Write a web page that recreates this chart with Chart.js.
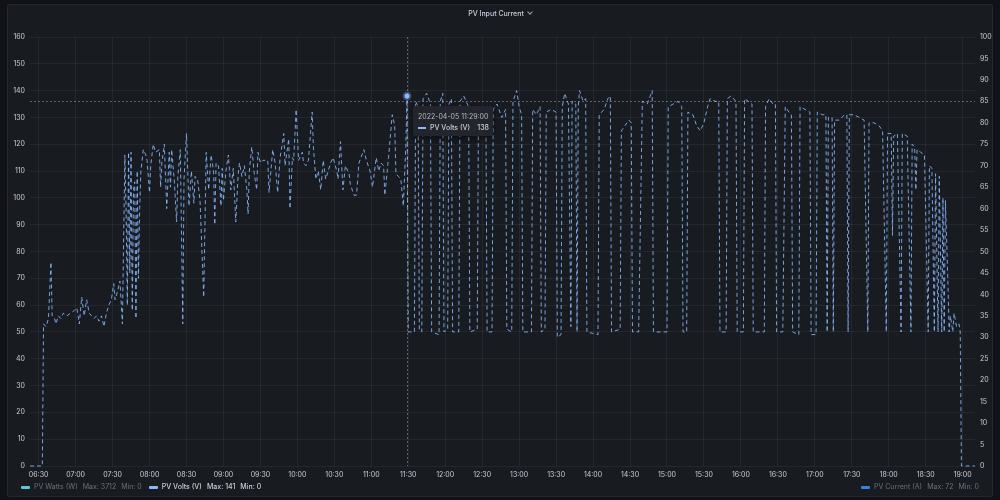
<!DOCTYPE html>
<html>
<head>
<meta charset="utf-8">
<title>PV Input Current</title>
<script src="https://cdn.jsdelivr.net/npm/chart.js@4.4.1/dist/chart.umd.min.js"></script>
<style>
  html, body { margin: 0; padding: 0; width: 1000px; height: 500px; overflow: hidden; background: #111217; font-family: Inter, Roboto, sans-serif; }
  #panel { position: absolute; left: 7px; top: 4px; width: 986px; height: 493px; box-sizing: border-box; background: #181b1f; border: 1px solid rgba(204,204,220,0.07); border-radius: 2px; }
  #wrap { position: absolute; left: 0; top: 0; width: 1000px; height: 500px; }
  #title { position: absolute; left: 0; top: 9px; width: 1000px; text-align: center; color: #ccccdc; font-size: 7px; font-weight: 500; line-height: 10px; }
  #title .chev { display: inline-block; width: 3px; height: 3px; margin-left: 4px; border-right: 1px solid #9fa1a8; border-bottom: 1px solid #9fa1a8; transform: translateY(-2px) rotate(45deg); }
  .legend { position: absolute; top: 482px; height: 10px; display: flex; align-items: center; font-size: 7px; line-height: 10px; white-space: nowrap; }
  .legend .item { display: flex; align-items: center; margin-right: 7px; }
  .legend .sw { width: 9px; height: 3px; border-radius: 1px; margin-right: 4px; }
  .legend .nm { margin-right: 5px; }
  .legend .st { margin-right: 5px; }
  .dim { color: #6e7079; }
  .on { color: #ccccdc; font-weight: 500; }
  #tip { position: absolute; width: 80px; height: 30px; box-sizing: border-box; background: #22252b; border-radius: 2px; box-shadow: 0 2px 6px rgba(0,0,0,0.5); padding: 5px 4px 0 5px; font-size: 7px; line-height: 11px; color: #ccccdc; }
  #tip .row { display: flex; align-items: center; }
  #tip .sw { width: 8px; height: 2px; background: #8AB8FF; margin-right: 4px; }
  #tip .val { margin-left: auto; font-weight: 500; }
</style>
</head>
<body>
<div id="panel"></div>
<div id="wrap"><canvas id="pvChart"></canvas></div>
<div id="title">PV Input Current<span class="chev"></span></div>
<div class="legend" id="legendLeft" style="left:21px"></div>
<div class="legend" id="legendRight" style="right:14px"></div>
<div id="tip"></div>
<script>
// Zeitachse (HH:MM) und PV-Spannung in Volt
const times = [
  '06:23','06:33','06:34','06:36','06:38','06:40','06:41','06:43','06:44','06:46','06:48','06:50','06:53','06:56','06:59',
  '07:01','07:03','07:05','07:07','07:09','07:11','07:13','07:15','07:17','07:19','07:21','07:23','07:25','07:27','07:29',
  '07:31','07:32','07:34','07:36','07:38','07:39','07:40','07:41','07:42','07:43','07:44','07:45','07:46','07:47','07:48',
  '07:49','07:50','07:51','07:52','07:53','07:55','07:57','07:58',
  '08:00','08:01','08:03','08:05','08:08','08:09','08:10','08:12','08:14','08:16','08:17','08:18','08:20','08:22','08:23',
  '08:25','08:27','08:28','08:30','08:32','08:34','08:36','08:37','08:39','08:41','08:44','08:46','08:48','08:50','08:52',
  '08:53','08:54','08:56','08:58','08:59',
  '09:00','09:02','09:04','09:06','09:08','09:10','09:12','09:13','09:15','09:17','09:19','09:20','09:21','09:23','09:25',
  '09:27','09:28','09:30','09:32','09:34','09:36','09:37','09:40','09:42','09:44','09:46','09:49','09:50','09:53','09:54',
  '09:56','09:57','09:59',
  '10:01','10:04','10:05','10:07','10:09','10:12','10:13','10:15','10:17','10:19','10:21','10:23','10:25','10:27','10:29',
  '10:32','10:33','10:35','10:37','10:39','10:42','10:43','10:46','10:48','10:50','10:54','10:56','10:59',
  '11:01','11:04','11:06','11:08','11:10','11:11','11:14','11:17','11:19','11:20','11:22','11:24','11:26','11:28','11:29',
  '11:30','11:35','11:36','11:38','11:39','11:41','11:42','11:45','11:48','11:49','11:55','11:56','11:58','11:59',
  '12:02','12:03','12:05','12:06','12:11','12:12','12:15','12:19','12:20','12:26','12:27','12:30','12:33','12:34','12:38',
  '12:39','12:42','12:46','12:49','12:50','12:54','12:55','12:58',
  '13:00','13:02','13:03','13:10','13:11','13:14','13:17','13:18','13:21','13:22','13:26','13:30','13:31','13:34','13:35',
  '13:37','13:40','13:42','13:43','13:46','13:47','13:48','13:49','13:52','13:54','13:55',
  '14:04','14:05','14:09','14:12','14:14','14:15','14:22','14:23','14:26','14:29','14:31','14:32','14:37','14:40','14:44',
  '14:48','14:49',
  '15:00','15:01','15:05','15:09','15:12','15:13','15:16','15:17','15:21','15:24','15:27','15:30','15:33','15:35','15:39',
  '15:42','15:43','15:48','15:49','15:52','15:56','15:57',
  '16:02','16:03','16:06','16:09','16:10','16:19','16:20','16:23','16:26','16:28','16:29','16:34','16:36','16:39','16:41',
  '16:42','16:47','16:48','16:52','16:56','16:57',
  '17:01','17:02','17:06','17:09','17:10','17:11','17:14','17:15','17:16','17:20','17:24','17:26','17:27','17:28','17:32',
  '17:36','17:40','17:43','17:44','17:48','17:52','17:55','17:58','17:59',
  '18:02','18:03','18:04','18:07','18:10','18:11','18:15','18:18','18:19','18:21','18:22','18:23','18:26','18:29','18:32',
  '18:33','18:35','18:37','18:38','18:40','18:41','18:43','18:44','18:45','18:46','18:48','18:49','18:50','18:52','18:53',
  '18:55','18:57','18:58','18:59','19:10'
];
const pvVolts = [
  0,0,53,52,55,76,56,55,53,56,55,57,56,57,58,
  59,53,63,56,62,57,56,55,56,54,56,52,57,60,62,
  68,62,65,69,53,85,116,95,60,117,72,117,58,103,106,
  55,110,70,96,110,118,116,114,
  102,112,120,117,118,104,113,120,96,117,104,118,107,91,108,
  118,53,107,124,97,110,98,108,107,99,63,117,103,116,110,
  90,113,112,97,111,
  99,110,116,103,111,91,109,113,108,112,103,94,110,119,109,
  103,117,113,114,114,114,102,118,113,102,115,124,112,122,96,
  115,114,133,
  114,117,113,112,114,132,119,107,110,103,114,107,110,113,115,
  110,107,121,103,112,109,105,101,101,113,118,114,110,
  104,115,110,113,112,101,115,131,127,109,108,107,97,119,138,
  50,50,136,134,51,50,137,139,135,50,49,136,139,50,
  51,135,137,50,50,136,138,134,50,51,133,131,134,50,50,
  133,135,130,133,51,50,136,140,
  134,131,50,50,133,131,134,50,51,132,133,132,48,49,134,
  139,135,52,136,135,50,134,140,136,137,50,
  49,131,133,137,138,50,51,125,127,129,128,50,50,136,135,
  140,50,
  50,134,135,136,134,50,50,132,131,127,125,128,134,137,136,
  136,50,50,137,138,136,50,
  50,137,136,135,50,50,134,137,135,135,50,50,134,132,131,
  50,49,134,133,132,49,
  49,132,131,131,50,130,130,50,129,129,131,131,50,131,131,
  130,129,50,128,128,127,125,50,124,
  124,86,123,124,50,124,123,50,120,119,103,118,117,116,50,
  112,111,50,109,50,108,50,100,50,99,69,50,56,50,57,
  52,53,50,0,0
];

// Achsen
const xTickLabels = ['06:30','07:00','07:30','08:00','08:30','09:00','09:30','10:00','10:30','11:00','11:30','12:00','12:30',
  '13:00','13:30','14:00','14:30','15:00','15:30','16:00','16:30','17:00','17:30','18:00','18:30','19:00'];
const xRange = ['06:23', '19:10'];
const leftRange = [0, 160];
const rightRange = [0, 100];

// Legende und Tooltip
const seriesNames = ['PV Watts (W)', 'PV Volts (V)', 'PV Current (A)'];
const seriesMax = [3712, 141, 72];
const seriesMin = [0, 0, 0];
const hoverDate = '2022-04-05';
const hoverTime = '11:29';
const crossValue = 136;

const toMin = s => { const p = s.split(':'); return (+p[0]) * 60 + (+p[1]); };
const fmt = m => String(Math.floor(m / 60)).padStart(2, '0') + ':' + String(Math.round(m % 60)).padStart(2, '0');

const points = times.map((t, i) => ({ x: toMin(t), y: pvVolts[i] }));
const gridColor = 'rgba(204,204,220,0.07)';
const tickColor = '#ccccdc';
const tickFont = { family: 'Inter', size: 7 };

// Legende bauen
const swatch = ['#5fc6d6', '#8AB8FF', '#3a7fd9'];
function legendItem(i, active) {
  return '<div class="item ' + (active ? 'on' : 'dim') + '">' +
    '<div class="sw" style="background:' + swatch[i] + '"></div>' +
    '<span class="nm">' + seriesNames[i] + '</span>' +
    '<span class="st">Max: ' + seriesMax[i] + '</span>' +
    '<span>Min: ' + seriesMin[i] + '</span></div>';
}
document.getElementById('legendLeft').innerHTML = legendItem(0, false) + legendItem(1, true);
document.getElementById('legendRight').innerHTML = legendItem(2, false);

const hoverIdx = times.indexOf(hoverTime);
document.getElementById('tip').innerHTML =
  '<div class="row" style="color:#b9bac2">' + hoverDate + ' ' + hoverTime + ':00</div>' +
  '<div class="row on"><div class="sw"></div><span>' + seriesNames[1] + '</span><span class="val">' + pvVolts[hoverIdx] + '</span></div>';

// Fadenkreuz + Punkt
const crosshair = {
  id: 'crosshair',
  afterDatasetsDraw(chart) {
    const { ctx, chartArea, scales } = chart;
    const px = scales.x.getPixelForValue(toMin(hoverTime));
    const py = scales.y.getPixelForValue(pvVolts[hoverIdx]);
    const cy = scales.y.getPixelForValue(crossValue);
    ctx.save();
    ctx.strokeStyle = 'rgba(204,204,220,0.4)';
    ctx.lineWidth = 1;
    ctx.setLineDash([2, 2]);
    ctx.beginPath();
    ctx.moveTo(Math.round(px) + 0.5, chartArea.top);
    ctx.lineTo(Math.round(px) + 0.5, chartArea.bottom);
    ctx.moveTo(chartArea.left, Math.round(cy) + 0.5);
    ctx.lineTo(chartArea.right, Math.round(cy) + 0.5);
    ctx.stroke();
    ctx.setLineDash([]);
    ctx.fillStyle = 'rgba(138,184,255,0.3)';
    ctx.beginPath(); ctx.arc(px, py, 4.5, 0, Math.PI * 2); ctx.fill();
    ctx.fillStyle = '#8AB8FF';
    ctx.beginPath(); ctx.arc(px, py, 2.5, 0, Math.PI * 2); ctx.fill();
    ctx.restore();
    const tip = document.getElementById('tip');
    tip.style.left = Math.round(px + 6) + 'px';
    tip.style.top = Math.round(py + 10) + 'px';
  }
};

new Chart(document.getElementById('pvChart'), {
  type: 'line',
  data: {
    datasets: [{
      label: seriesNames[1],
      data: points,
      borderColor: 'rgba(138,184,255,0.85)',
      borderWidth: 1,
      borderDash: [4, 3],
      pointRadius: 0,
      tension: 0,
      fill: false,
      clip: 3,
      yAxisID: 'y'
    }]
  },
  options: {
    responsive: true,
    maintainAspectRatio: false,
    animation: false,
    events: [],
    layout: { padding: { top: 37, bottom: 16, left: 0, right: 0 } },
    plugins: { legend: { display: false }, tooltip: { enabled: false } },
    scales: {
      x: {
        type: 'linear',
        min: toMin(xRange[0]),
        max: toMin(xRange[1]),
        afterBuildTicks: s => { s.ticks = xTickLabels.map(l => ({ value: toMin(l) })); },
        afterFit: s => { s.height = 18; },
        ticks: { color: tickColor, font: tickFont, padding: 5, maxRotation: 0, autoSkip: false, callback: v => fmt(v) },
        grid: { color: gridColor, drawTicks: false },
        border: { display: false }
      },
      y: {
        position: 'left',
        min: leftRange[0],
        max: leftRange[1],
        afterFit: s => { s.width = 30; },
        ticks: { stepSize: 10, color: tickColor, font: tickFont, padding: 5 },
        grid: { color: gridColor, drawTicks: false },
        border: { display: false }
      },
      y1: {
        position: 'right',
        min: rightRange[0],
        max: rightRange[1],
        afterFit: s => { s.width = 25; },
        ticks: { stepSize: 5, color: tickColor, font: tickFont, padding: 5 },
        grid: { display: false, drawTicks: false },
        border: { display: false }
      }
    }
  },
  plugins: [crosshair]
});
</script>
</body>
</html>
